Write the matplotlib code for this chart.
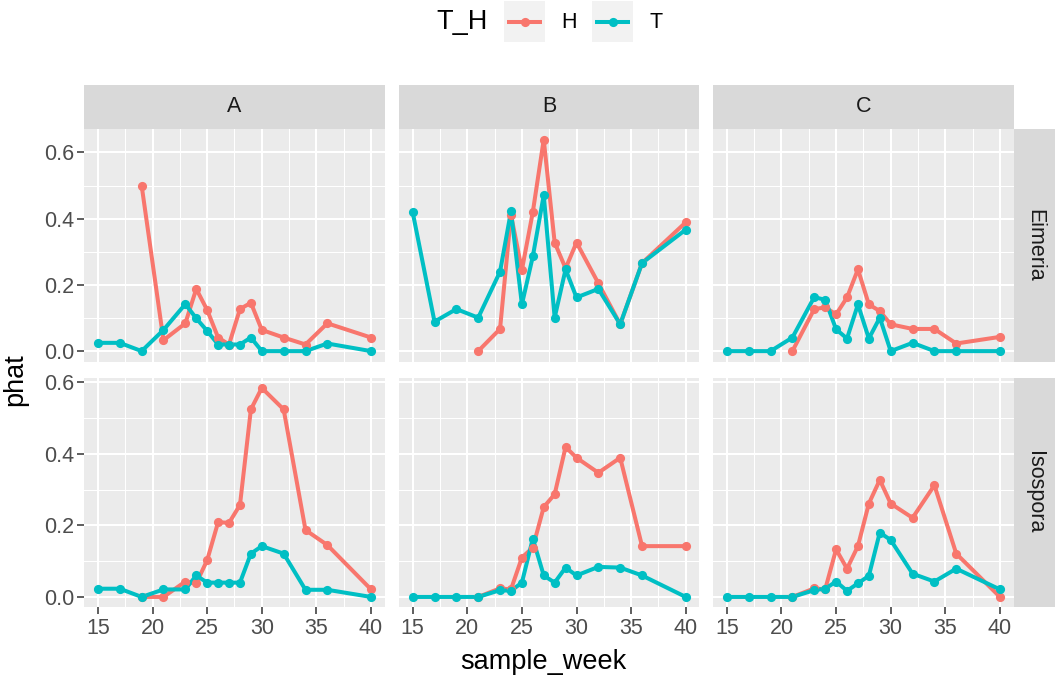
import numpy as np
import matplotlib
matplotlib.use("Agg")
import matplotlib.pyplot as plt

plt.rcParams['font.family'] = ['Liberation Sans', 'DejaVu Sans']

nan = np.nan
weeks = [15, 17, 19, 21, 23, 24, 25, 26, 27, 28, 29, 30, 32, 34, 36, 40]
cols = ["A", "B", "C"]
rows = ["Eimeria", "Isospora"]
groups = ["H", "T"]

eim_A_H = [nan, nan, 0.50, 0.033, 0.084, 0.188, 0.124, 0.041, 0.020, 0.127, 0.146, 0.064, 0.041, 0.020, 0.084, 0.041]
eim_A_T = [0.025, 0.025, 0.0, 0.064, 0.142, 0.099, 0.061, 0.020, 0.020, 0.020, 0.041, 0.0, 0.0, 0.0, 0.023, 0.0]
eim_B_H = [nan, nan, nan, 0.0, 0.067, 0.412, 0.245, 0.420, 0.639, 0.328, 0.250, 0.328, 0.205, 0.081, 0.266, 0.389]
eim_B_T = [0.420, 0.089, 0.127, 0.101, 0.240, 0.422, 0.141, 0.286, 0.471, 0.101, 0.247, 0.162, 0.188, 0.081, 0.266, 0.367]
eim_C_H = [nan, nan, nan, 0.0, 0.127, 0.132, 0.111, 0.162, 0.247, 0.141, 0.121, 0.081, 0.067, 0.067, 0.023, 0.043]
eim_C_T = [0.0, 0.0, 0.0, 0.041, 0.163, 0.155, 0.066, 0.038, 0.141, 0.038, 0.101, 0.0, 0.025, 0.0, 0.0, 0.0]
iso_A_H = [nan, nan, 0.0, 0.0, 0.043, 0.038, 0.103, 0.209, 0.207, 0.257, 0.524, 0.584, 0.524, 0.187, 0.145, 0.021]
iso_A_T = [0.023, 0.023, 0.0, 0.021, 0.021, 0.060, 0.040, 0.040, 0.040, 0.040, 0.121, 0.142, 0.121, 0.020, 0.020, 0.0]
iso_B_H = [nan, nan, nan, 0.0, 0.024, 0.021, 0.110, 0.138, 0.251, 0.287, 0.419, 0.389, 0.347, 0.389, 0.142, 0.142]
iso_B_T = [0.0, 0.0, 0.0, 0.0, 0.019, 0.017, 0.040, 0.163, 0.060, 0.040, 0.082, 0.060, 0.084, 0.082, 0.060, 0.0]
iso_C_H = [nan, nan, nan, 0.0, 0.024, 0.021, 0.133, 0.079, 0.142, 0.261, 0.327, 0.261, 0.221, 0.312, 0.121, 0.0]
iso_C_T = [0.0, 0.0, 0.0, 0.0, 0.019, 0.023, 0.043, 0.017, 0.038, 0.059, 0.180, 0.159, 0.065, 0.043, 0.079, 0.021]

x_ticks = [15, 20, 25, 30, 35, 40]
y_ticks = [0.0, 0.2, 0.4, 0.6]
y_ticklabels = ["0.0", "0.2", "0.4", "0.6"]

data = {
    ("Eimeria", "A"): (eim_A_H, eim_A_T),
    ("Eimeria", "B"): (eim_B_H, eim_B_T),
    ("Eimeria", "C"): (eim_C_H, eim_C_T),
    ("Isospora", "A"): (iso_A_H, iso_A_T),
    ("Isospora", "B"): (iso_B_H, iso_B_T),
    ("Isospora", "C"): (iso_C_H, iso_C_T),
}

colors = {"H": "#F8766D", "T": "#00BFC4"}
W, H = 1055, 682
fig = plt.figure(figsize=(W / 100, H / 100), dpi=100)


def rect(l, t, r, b):
    return [l / W, 1 - b / H, (r - l) / W, (b - t) / H]


col_lr = [(84.3, 384.7), (399.0, 699.4), (713.2, 1013.6)]
row_tb = [(129.0, 361.7), (377.5, 607.4)]

x_lo, x_hi = min(weeks), max(weeks)
xr = x_hi - x_lo
xlim = (x_lo - 0.05 * xr, x_hi + 0.05 * xr)

tick_fs = 15.5
tick_col = "#4D4D4D"

for ri, rname in enumerate(rows):
    vals = []
    for c in cols:
        for s in data[(rname, c)]:
            vals += [v for v in s if not np.isnan(v)]
    ymin, ymax = min(vals), max(vals)
    yr = ymax - ymin
    ylim = (ymin - 0.05 * yr, ymax + 0.05 * yr)
    t, b = row_tb[ri]
    for ci, cname in enumerate(cols):
        l, r = col_lr[ci]
        ax = fig.add_axes(rect(l, t, r, b))
        ax.set_facecolor("#EBEBEB")
        for sp in ax.spines.values():
            sp.set_visible(False)
        ax.set_xticks(x_ticks)
        ax.set_yticks(y_ticks)
        ax.set_xticks([17.5, 22.5, 27.5, 32.5, 37.5], minor=True)
        ax.set_yticks([0.1, 0.3, 0.5], minor=True)
        ax.grid(which="major", color="white", linewidth=1.5)
        ax.grid(which="minor", color="white", linewidth=0.75)
        ax.set_axisbelow(True)
        ax.tick_params(which="minor", length=0)
        ax.tick_params(which="major", length=4.9, width=1.1, color="#333333",
                       labelsize=tick_fs, labelcolor=tick_col, pad=2.5)
        if ci == 0:
            ax.set_yticklabels(y_ticklabels)
        else:
            ax.tick_params(axis="y", labelleft=False, length=0)
        if ri == len(rows) - 1:
            ax.set_xticklabels([str(v) for v in x_ticks])
        else:
            ax.tick_params(axis="x", labelbottom=False, length=0)
        series = data[(rname, cname)]
        for g, s in zip(groups, series):
            ax.plot(weeks, s, color=colors[g], linewidth=2.9, solid_capstyle="butt", zorder=2)
        for g, s in zip(groups, series):
            ax.plot(weeks, s, linestyle="none", marker="o", markersize=6.6,
                    color=colors[g], markeredgewidth=0, zorder=3)
        ax.set_xlim(*xlim)
        ax.set_ylim(*ylim)
        # top strip
        if ri == 0:
            sax = fig.add_axes(rect(l, 85, r, t))
            sax.set_facecolor("#D9D9D9")
            sax.set_xticks([]); sax.set_yticks([])
            for sp in sax.spines.values():
                sp.set_visible(False)
            sax.text(0.5, 0.5, cname, ha="center", va="center", fontsize=tick_fs,
                     color="#1A1A1A", transform=sax.transAxes)
    # right strip
    rsx = fig.add_axes(rect(1013.6, t, 1055, b))
    rsx.set_facecolor("#D9D9D9")
    rsx.set_xticks([]); rsx.set_yticks([])
    for sp in rsx.spines.values():
        sp.set_visible(False)
    rsx.text(0.5, 0.5, rname, ha="center", va="center", rotation=-90, fontsize=tick_fs,
             color="#1A1A1A", transform=rsx.transAxes)

# axis titles
fig.text(543 / W, 1 - 662 / H, "sample_week", ha="center", va="center", fontsize=19.5, color="black")
fig.text(15 / W, 1 - 380 / H, "phat", ha="center", va="center", rotation=90, fontsize=19.5, color="black")

# legend
fig.text(462 / W, 1 - 22 / H, "T_H", ha="center", va="center", fontsize=19.5, color="black")
key_pos = [(504, 545), (592, 633)]
lab_x = [569, 656]
for g, (kl, kr), lx in zip(groups, key_pos, lab_x):
    kax = fig.add_axes(rect(kl, 1, kr, 42))
    kax.set_facecolor("#F2F2F2")
    kax.set_xticks([]); kax.set_yticks([])
    for sp in kax.spines.values():
        sp.set_visible(False)
    kax.set_xlim(0, 1); kax.set_ylim(0, 1)
    kax.plot([0.08, 0.92], [0.5, 0.5], color=colors[g], linewidth=2.9, solid_capstyle="butt")
    kax.plot([0.5], [0.5], marker="o", markersize=6.6, color=colors[g], markeredgewidth=0)
    fig.text(lx / W, 1 - 22 / H, g, ha="center", va="center", fontsize=tick_fs, color="black")

fig.savefig("out.png", dpi=100, facecolor="white")
